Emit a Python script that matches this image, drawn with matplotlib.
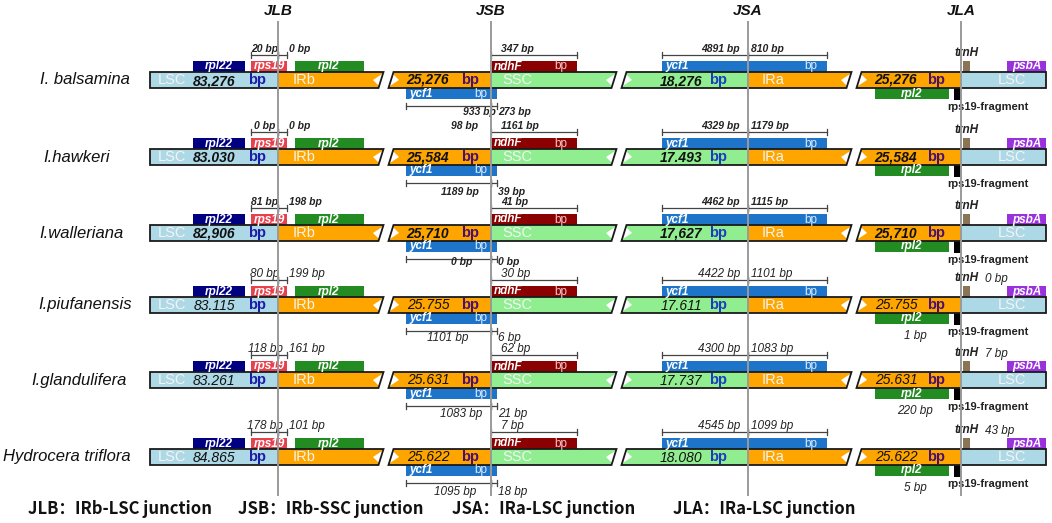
import matplotlib.pyplot as plt
from matplotlib.patches import Rectangle, Polygon

plt.rcParams['font.family'] = ['Liberation Sans', 'DejaVu Sans']

# data
species = ['I. balsamina', 'I.hawkeri', 'I.walleriana', 'I.piufanensis',
           'I.glandulifera', 'Hydrocera triflora']
lsc_len = ['83,276', '83.030', '82,906', '83.115', '83.261', '84.865']
ir_len = ['25,276', '25,584', '25,710', '25.755', '25.631', '25.622']
ssc_len = ['18,276', '17.493', '17,627', '17.611', '17.737', '18.080']
rps19_lsc = ['20 bp', '0 bp', '81 bp', '80 bp', '118 bp', '178 bp']
rps19_irb = ['0 bp', '0 bp', '198 bp', '199 bp', '161 bp', '101 bp']
ycf1_irb = ['933 bp', '1189 bp', '0 bp', '1101 bp', '1083 bp', '1095 bp']
ycf1_ssc_b = ['273 bp', '39 bp', '0 bp', '6 bp', '21 bp', '18 bp']
ndhf_ssc = ['347 bp', '1161 bp', '41 bp', '30 bp', '62 bp', '7 bp']
ndhf_irb = ['', '98 bp', '', '', '', '']
ycf1_ssc_a = ['4891 bp', '4329 bp', '4462 bp', '4422 bp', '4300 bp', '4545 bp']
ycf1_ira = ['810 bp', '1179 bp', '1115 bp', '1101 bp', '1083 bp', '1099 bp']
trnh_gap = ['', '', '', '0 bp', '7 bp', '43 bp']
rpl2_gap = ['', '', '', '1 bp', '220 bp', '5 bp']
junctions = ['JLB', 'JSB', 'JSA', 'JLA']
legend = ['JLB：IRb-LSC junction', 'JSB：IRb-SSC junction',
          'JSA：IRa-LSC junction', 'JLA：IRa-LSC junction']

# layout (pixel space)
row_y = [80, 157, 233, 305, 380, 457]
name_x = [85, 77, 81, 85, 79, 67]
jsb_lx = [479, 460, 462, 448, 461, 455]
jsb_dy = [32, 35, 29, 33, 34, 35]
jx = [278, 491, 748, 961]
legend_x = [28, 238, 452, 673]

LSC_C = '#add8e6'
IR_C = '#ffa500'
SSC_C = '#90ee90'

spans = [(150, 278, LSC_C), (278, 381, IR_C), (391, 491, IR_C), (491, 614, SSC_C),
         (624, 748, SSC_C), (748, 849, IR_C), (859, 961, IR_C), (961, 1046, LSC_C)]
pieces = [(150, 381, False, True), (391, 614, True, True),
          (624, 849, True, True), (859, 1046, True, False)]
slant_right = [381, 614, 849]
slant_left = [391, 624, 859]

fig = plt.figure(figsize=(10.52, 5.23), dpi=100)
ax = fig.add_axes([0, 0, 1, 1])
ax.set_xlim(0, 1052)
ax.set_ylim(523, 0)
ax.axis('off')


def quad(a, b, yc, sl, sr, h=8, d=2.5):
    tl = a + (d if sl else 0)
    bl = a - (d if sl else 0)
    tr = b + (d if sr else 0)
    br = b - (d if sr else 0)
    return [(bl, yc + h), (tl, yc - h), (tr, yc - h), (br, yc + h)]


def bracket(x0, x1, y):
    ax.plot([x0, x1], [y, y], color='#444444', lw=0.9, zorder=4)
    for xx in (x0, x1):
        ax.plot([xx, xx], [y - 3, y + 3], color='#444444', lw=0.9, zorder=4)


def box(x0, x1, y0, y1, color):
    ax.add_patch(Rectangle((x0, y0), x1 - x0, y1 - y0, facecolor=color,
                           edgecolor='none', zorder=2))


for i, yc in enumerate(row_y):
    bold = 'bold' if i < 3 else 'normal'
    afs = 7.5 if i < 3 else 8.5
    ann = dict(fontsize=afs, style='italic', fontweight=bold, color='#222222',
               va='center', zorder=5)

    ax.text(name_x[i], yc, species[i], fontsize=12, style='italic',
            ha='center', va='center', color='#111111')

    # genome bar
    for a, b, c in spans:
        sl = a in slant_left
        sr = b in slant_right
        ax.add_patch(Polygon(quad(a, b, yc, sl, sr), closed=True,
                             facecolor=c, edgecolor='none', zorder=1))
    for a, b, sl, sr in pieces:
        ax.add_patch(Polygon(quad(a, b, yc, sl, sr), closed=True,
                             facecolor='none', edgecolor='#1a1a1a', lw=1.3,
                             zorder=3))
    for xa in slant_right:
        ax.add_patch(Polygon([(xa - 8, yc), (xa + 1.6, yc - 6.3), (xa - 1.6, yc + 6.3)],
                             facecolor='white', edgecolor='none', zorder=2))
    for xb in slant_left:
        ax.add_patch(Polygon([(xb + 8, yc), (xb + 1.6, yc - 6.3), (xb - 1.6, yc + 6.3)],
                             facecolor='white', edgecolor='none', zorder=2))

    # region labels inside the bar
    reg = dict(fontsize=10.5, color='#f4f4f4', ha='center', va='center', zorder=4)
    ax.text(172, yc, 'LSC', **reg)
    ax.text(304, yc, 'IRb', **reg)
    ax.text(517, yc, 'SSC', **reg)
    ax.text(773, yc, 'IRa', **reg)
    ax.text(1012, yc, 'LSC', **reg)
    num = dict(fontsize=10, style='italic', fontweight=bold, color='#111111',
               ha='center', va='center', zorder=4)
    bpk = dict(fontsize=10.5, fontweight='bold', ha='center', va='center', zorder=4)
    ax.text(214, yc + 1, lsc_len[i], **num)
    ax.text(257, yc, 'bp', color='#1c1ca8', **bpk)
    ax.text(428, yc, ir_len[i], **num)
    ax.text(470, yc, 'bp', color='#4a1070', **bpk)
    ax.text(681, yc + 1, ssc_len[i], **num)
    ax.text(718, yc, 'bp', color='#1c3cc0', **bpk)
    ax.text(896, yc, ir_len[i], **num)
    ax.text(936, yc, 'bp', color='#4a1070', **bpk)

    # genes above the bar
    top0, top1 = yc - 19, yc - 8
    box(193, 245, top0, top1, '#000080')
    box(251, 287, top0, top1, '#e8414e')
    box(295, 364, top0, top1, '#228b22')
    box(491, 577, top0, top1, '#8b0000')
    box(662, 827, top0, top1, '#1e74c8')
    box(963, 970, top0, top1, '#8b7355')
    box(1007, 1046, top0, top1, '#9932dd')
    # genes below the bar
    bot0, bot1 = yc + 8, yc + 19
    box(406, 497, bot0, bot1, '#1e74c8')
    box(875, 949, bot0, bot1, '#228b22')
    box(954, 961, bot0, yc + 20, '#000000')

    gl = dict(fontsize=8.5, style='italic', fontweight='bold', color='white',
              va='center', zorder=4)
    gy, by = yc - 13.5, yc + 13.5
    ax.text(219, gy, 'rpl22', ha='center', **gl)
    ax.text(269, gy, 'rps19', ha='center', **gl)
    ax.text(329, gy, 'rpl2', ha='center', **gl)
    ax.text(494, gy, 'ndhF', ha='left', **gl)
    ax.text(665, gy, 'ycf1', ha='left', **gl)
    ax.text(1027, gy, 'psbA', ha='center', **gl)
    ax.text(409, by, 'ycf1', ha='left', **gl)
    ax.text(912, by, 'rpl2', ha='center', **gl)
    sb = dict(fontsize=8.5, va='center', ha='center', zorder=4)
    ax.text(561, gy, 'bp', color='#f2c8c8', **sb)
    ax.text(811, gy, 'bp', color='#dcecff', **sb)
    ax.text(481, by, 'bp', color='#dcecff', **sb)

    # JLB
    bracket(251, 278, yc - 25)
    bracket(278, 287, yc - 25)
    ax.text(265, yc - 31, rps19_lsc[i], ha='center', **ann)
    ax.text(289, yc - 31, rps19_irb[i], ha='left', **ann)
    # JSB
    bracket(491, 577, yc - 25)
    ax.text(501, yc - 31, ndhf_ssc[i], ha='left', **ann)
    ax.text(478, yc - 31, ndhf_irb[i], ha='right', **ann)
    bracket(406, 491, yc + 26)
    bracket(491, 497, yc + 26)
    ax.text(jsb_lx[i], yc + jsb_dy[i], ycf1_irb[i], ha='center', **ann)
    ax.text(498, yc + jsb_dy[i], ycf1_ssc_b[i], ha='left', **ann)
    # JSA
    bracket(662, 748, yc - 25)
    bracket(748, 827, yc - 25)
    ax.text(740, yc - 31, ycf1_ssc_a[i], ha='right', **ann)
    ax.text(751, yc - 31, ycf1_ira[i], ha='left', **ann)
    # JLA
    ax.text(967, yc - 27, 'trnH', fontsize=8.5, style='italic', fontweight='bold',
            ha='center', va='center', color='#222222', zorder=5)
    ax.text(985, yc - 26, trnh_gap[i], ha='left', **ann)
    ax.text(915, yc + 31, rpl2_gap[i], ha='center', **ann)
    ax.text(947, yc + 27, 'rps19-fragment', fontsize=8, fontweight='bold',
            ha='left', va='center', color='#222222', zorder=5)

# junction lines and titles
for x, name in zip(jx, junctions):
    ax.plot([x, x], [22, 495], color='#9a9a9a', lw=1.4, zorder=6)
    ax.text(x, 11, name, fontsize=11, style='italic', fontweight='bold',
            ha='center', va='center', color='#111111')

for x, t in zip(legend_x, legend):
    ax.text(x, 509, t, fontsize=12, fontweight='bold', ha='left', va='center',
            family=['Noto Sans CJK SC', 'DejaVu Sans'], color='#111111')

fig.savefig('out.png', dpi=100)
